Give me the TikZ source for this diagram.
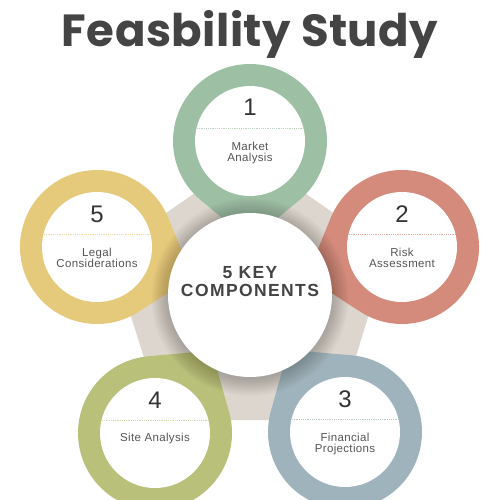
\documentclass[tikz,border=0pt]{standalone}
\usepackage{fontspec}
\setmainfont{Liberation Sans}
\newfontfamily\titlefont{Poppins}[LetterSpace=1]
\newfontfamily\keyfont{Liberation Sans}[LetterSpace=8]
\newfontfamily\lblfont{Liberation Sans}[LetterSpace=3]
\usetikzlibrary{calc}
\definecolor{cgreen}{HTML}{9DBFA3}
\definecolor{csalmon}{HTML}{D48B7C}
\definecolor{cblue}{HTML}{9FB3BC}
\definecolor{colive}{HTML}{B9C07A}
\definecolor{cyellow}{HTML}{E6CA7C}
\definecolor{cbeige}{HTML}{DDD6CE}
\definecolor{ctitle}{HTML}{444444}
\definecolor{cnum}{HTML}{333333}
\definecolor{clbl}{HTML}{555555}
\newcommand\pinshape[3]{%
  \fill[#3] ($(#1)+(#2:100)$) -- ($(#1)+(#2+39.6:77)$)
    arc[start angle=#2+39.6, end angle=#2+320.4, radius=77] -- cycle;
  \fill[white] (#1) circle[radius=55];
  \draw[#3!70, dash pattern=on 1.2pt off 1pt, line width=0.45pt]
    ($(#1)+(-53,-13)$) -- ($(#1)+(53,-13)$);
}
\tikzset{
  numtext/.style={anchor=base, inner sep=0pt, text=cnum, font=\fontsize{24}{24}\selectfont},
  lbltext/.style={anchor=base, inner sep=0pt, align=center, text=clbl, font=\lblfont\fontsize{11.5}{11.5}\selectfont},
  keytext/.style={anchor=base, inner sep=0pt, text=ctitle, font=\keyfont\bfseries\fontsize{17.5}{17.5}\selectfont}
}
\begin{document}
\begin{tikzpicture}[x=1pt,y=-1pt]
\fill[white] (0,0) rectangle (500,500);
\useasboundingbox (0,0) rectangle (500,500);
\coordinate (O) at (250,295);
\coordinate (C1) at (250,141);
\coordinate (C2) at (402,247);
\coordinate (C3) at (345,432);
\coordinate (C4) at (155,433);
\coordinate (C5) at (97,247);
% beige pentagon
\fill[cbeige] ($(O)!0.91!(C1)$) -- ($(O)!0.91!(C2)$) -- ($(O)!0.91!(C3)$)
  -- ($(O)!0.91!(C4)$) -- ($(O)!0.91!(C5)$) -- cycle;
% pins
\pinshape{C1}{90}{cgreen}
\pinshape{C2}{162.5}{csalmon}
\pinshape{C3}{235.3}{cblue}
\pinshape{C4}{304.5}{colive}
\pinshape{C5}{17.4}{cyellow}
% soft shadow of the central circle
\foreach \i in {1,...,18} \fill[black,opacity=0.011] ($(O)+(0,2)$) circle[radius=81+\i];
\node[circle, fill=white, minimum size=164pt, inner sep=0pt] (center) at (O) {};
\node[keytext] (k1) at (250,278) {5 KEY};
\node[keytext] (k2) at (250,296) {COMPONENTS};
% numbers
\node[numtext] (n1) at ($(C1)+(0,-25)$) {1};
\node[numtext] (n2) at ($(C2)+(0,-25)$) {2};
\node[numtext] (n3) at ($(C3)+(0,-25)$) {3};
\node[numtext] (n4) at ($(C4)+(0,-25)$) {4};
\node[numtext] (n5) at ($(C5)+(0,-25)$) {5};
% labels (base = baseline of the last line)
\node[lbltext] (l1) at ($(C1)+(0,20.5)$) {Market\\Analysis};
\node[lbltext] (l2) at ($(C2)+(0,20.5)$) {Risk\\Assessment};
\node[lbltext] (l3) at ($(C3)+(0,20.5)$) {Financial\\Projections};
\node[lbltext] (l4) at ($(C4)+(0,8.5)$) {Site Analysis};
\node[lbltext] (l5) at ($(C5)+(0,20.5)$) {Legal\\Considerations};
% title
\node[anchor=base, inner sep=0pt, text=ctitle, font=\titlefont\bfseries\fontsize{45}{50}\selectfont] (title) at (250,46.5) {Feasbility Study};
\end{tikzpicture}
\end{document}
